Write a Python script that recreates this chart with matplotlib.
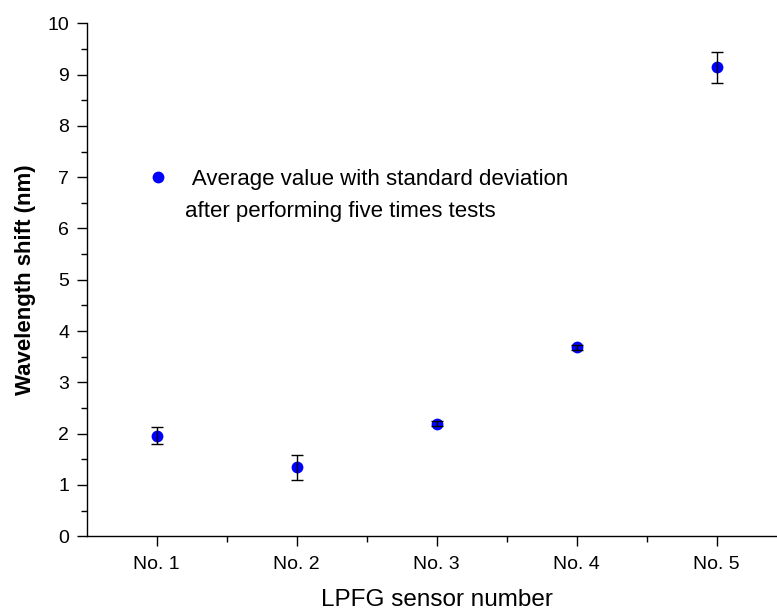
import matplotlib
matplotlib.use("Agg")
import matplotlib.pyplot as plt

plt.rcParams["font.family"] = ["Liberation Sans", "DejaVu Sans"]

sensors = ["No. 1", "No. 2", "No. 3", "No. 4", "No. 5"]
shift_mean = [1.96, 1.34, 2.19, 3.68, 9.14]
shift_std = [0.17, 0.25, 0.05, 0.05, 0.30]
legend_label = " Average value with standard deviation"
legend_note = "after performing five times tests"

pos = list(range(1, len(sensors) + 1))

fig = plt.figure(figsize=(7.77, 6.13), dpi=100)
ax = fig.add_axes([0.1116, 0.1253, 0.9009, 0.8367])

# dots first, then the error bars on top of them
ax.plot(pos, shift_mean, "o", color="#0000ff", markersize=8.5, markeredgewidth=0,
        zorder=2, label=legend_label)
ax.errorbar(pos, shift_mean, yerr=shift_std, fmt="none", ecolor="black",
            elinewidth=1.0, capsize=4, capthick=1.0, zorder=3)

ax.set_xlim(0.5, len(sensors) + 0.5)
ax.set_ylim(0, 10)
ax.set_xticks(pos)
ax.set_xticklabels(sensors)
ax.set_xticks([p + 0.5 for p in pos[:-1]], minor=True)
ax.set_yticks(range(0, 11))
ax.set_yticks([i + 0.5 for i in range(10)], minor=True)

for side in ("top", "right"):
    ax.spines[side].set_visible(False)
for side in ("left", "bottom"):
    ax.spines[side].set_linewidth(1.0)

ax.tick_params(axis="both", which="major", direction="out", length=7.5, width=1.0)
ax.tick_params(axis="both", which="minor", direction="out", length=4, width=1.0)
ax.tick_params(axis="x", which="major", labelsize=14, pad=7)
ax.tick_params(axis="y", which="major", labelsize=14, pad=5)

ax.set_xlabel("LPFG sensor number", fontsize=17.5, labelpad=11)
ax.set_ylabel("Wavelength shift (nm)", fontsize=16, fontweight="bold", labelpad=8)

ax.legend(loc="upper left", bbox_to_anchor=(0.067, 0.738), frameon=False,
          fontsize=16, handletextpad=0.7, handlelength=1.2, borderpad=0)
# second line of the legend entry
ax.text(0.1404, 0.634, legend_note, transform=ax.transAxes, fontsize=16,
        ha="left", va="center")

fig.savefig("out.png", dpi=100)
